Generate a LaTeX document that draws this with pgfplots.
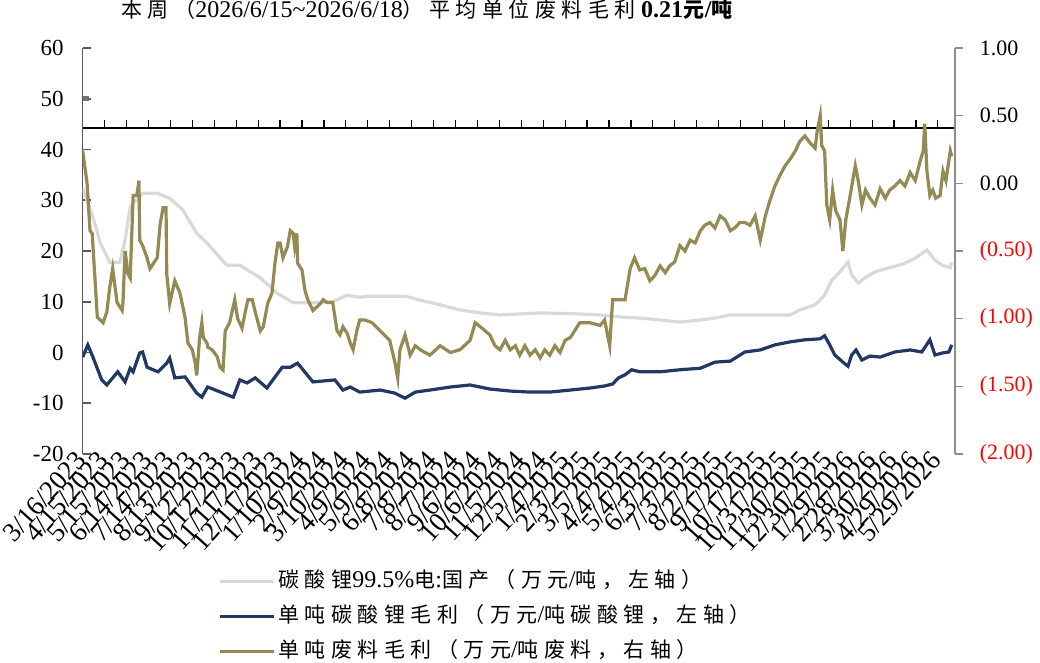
\documentclass[border=0pt]{standalone}
\usepackage{fontspec}
\setmainfont{Liberation Serif}
\newfontfamily\cjk[Scale=0.875,LetterSpace=26]{Noto Sans CJK SC}
\usepackage{pgfplots}
\pgfplotsset{compat=1.18}
\definecolor{lcgray}{RGB}{217,217,217}
\definecolor{navy}{RGB}{31,56,100}
\definecolor{olive}{RGB}{148,138,84}
\newcommand{\zh}[1]{{\cjk #1}}

\begin{document}
\begin{tikzpicture}
\useasboundingbox (-41.35pt,-104.5pt) rectangle (478.65pt,227pt);

% horizontal category line, crossing the plot area near the top
\begin{axis}[
    at={(0pt,163pt)}, anchor=south west,
    width=436pt, height=40pt, scale only axis,
    xmin=0, xmax=1193, ymin=0, ymax=1,
    axis x line*=bottom, hide y axis,
    xtick={0,30,...,1170}, xticklabels={},
    xmajorticks=true,
    tick align=inside, major tick length=4pt,
    x axis line style={black, line width=0.6pt},
    every tick/.style={black, line width=0.6pt},
]
\addplot[draw=none] coordinates {(0,0.5)};
\end{axis}

% left axis
\begin{axis}[
    width=436pt, height=203pt, scale only axis,
    xmin=0, xmax=1193, ymin=-20, ymax=60,
    axis y line*=left, axis x line*=bottom,
    x axis line style={draw=none},
    xtick={0,30,...,1170},
    xticklabels={3/16/2023,4/15/2023,5/15/2023,6/14/2023,7/14/2023,8/13/2023,9/12/2023,10/12/2023,11/11/2023,12/11/2023,
                 1/10/2024,2/9/2024,3/10/2024,4/9/2024,5/9/2024,6/8/2024,7/8/2024,8/7/2024,9/6/2024,10/6/2024,
                 11/5/2024,12/5/2024,1/4/2025,2/3/2025,3/5/2025,4/4/2025,5/4/2025,6/3/2025,7/3/2025,8/2/2025,
                 9/1/2025,10/1/2025,10/31/2025,11/30/2025,12/30/2025,1/29/2026,2/28/2026,3/30/2026,4/29/2026,5/29/2026},
    xticklabel style={rotate=48, anchor=east, font=\fontsize{13.5}{13.5}\selectfont, inner sep=1pt},
    ytick={-20,-10,...,60},
    yticklabels={-20,-10,0,10,20,30,40,50,60},
    yticklabel style={font=\fontsize{11.5}{12}\selectfont, xshift=-6pt},
    y axis line style={black!65, line width=0.8pt},
    every tick/.style={black!65, line width=0.8pt},
    major x tick style={draw=none, opacity=0},
    tick align=inside, major tick length=4pt,
    title={\zh{本周（}2026/6/15\textasciitilde2026/6/18\zh{）平均单位废料毛利}\textbf{0.21}{\cjk\bfseries\addfontfeatures{LetterSpace=4}元}\textbf{/}{\cjk\bfseries 吨}},
    title style={at={(0.395,1.066)}, anchor=center, font=\fontsize{12}{14}\selectfont, inner sep=0pt},
]
% small stub at 50
\addplot[black!55, line width=2.5pt] coordinates {(0,50) (9,50)};

% lithium carbonate price
\addplot[lcgray, line width=1.6pt] coordinates {
(0,32.4) (14,26.7) (24,21.6) (37,17.8) (51,17.8) (58,22.2) (65,28.7) (82,31.4) (102,31.4) (119,30.4)
(137,28.1) (156,23.5) (170,21.6) (197,17.2) (215,17.2) (243,14.7) (266,11.7) (288,9.8) (315,9.8) (342,10.0)
(362,11.3) (379,10.9) (393,11.1) (441,11.1) (462,10.3) (489,9.4) (516,8.4) (544,7.8) (571,7.4) (626,7.8)
(680,7.6) (708,7.4) (735,7.0) (762,6.8) (790,6.4) (817,6.0) (845,6.4) (865,6.8) (886,7.4) (927,7.4)
(968,7.4) (981,8.4) (1002,9.4) (1015,11.3) (1025,14.3) (1036,15.9) (1047,17.8) (1052,15.3) (1061,13.7) (1070,14.7)
(1084,15.9) (1104,16.7) (1125,17.6) (1139,18.6) (1155,20.2) (1166,18.2) (1176,17.2) (1187,16.7) (1189,17.8)
};

% gross margin per tonne of lithium carbonate
\addplot[navy, line width=1.6pt] coordinates {
(0,-0.9) (7,1.5) (14,-0.9) (26,-5.4) (33,-6.4) (48,-3.8) (58,-5.8) (65,-3.1) (69,-3.8) (78,-0.1)
(82,0.1) (88,-2.9) (103,-3.8) (115,-2.1) (119,-1.1) (126,-5.0) (140,-4.8) (156,-8.0) (163,-8.8) (171,-6.8)
(192,-8.0) (206,-8.8) (215,-5.4) (225,-6.0) (236,-5.0) (252,-7.0) (273,-2.9) (284,-2.9) (294,-2.1) (315,-5.8)
(345,-5.4) (356,-7.4) (366,-6.8) (379,-7.8) (407,-7.4) (427,-8.0) (441,-9.0) (455,-7.8) (475,-7.4) (503,-6.8)
(530,-6.4) (557,-7.2) (585,-7.6) (612,-7.8) (639,-7.8) (667,-7.4) (694,-7.0) (714,-6.6) (725,-6.2) (733,-5.0)
(742,-4.4) (751,-3.4) (762,-3.8) (790,-3.8) (817,-3.4) (845,-3.1) (865,-1.9) (886,-1.7) (906,0.1) (927,0.5)
(947,1.5) (968,2.1) (988,2.5) (1009,2.7) (1015,3.3) (1022,1.5) (1029,-0.5) (1040,-1.9) (1047,-2.7) (1052,-0.5)
(1058,0.5) (1066,-1.5) (1077,-0.7) (1091,-0.9) (1111,0.1) (1132,0.5) (1148,0.1) (1159,2.5) (1166,-0.5) (1176,-0.1)
(1185,0.1) (1189,1.5)
};
\end{axis}

% right axis
\begin{axis}[
    width=436pt, height=203pt, scale only axis,
    xmin=0, xmax=1193, ymin=-2, ymax=1,
    axis y line*=right, axis x line=none,
    ytick={-2,-1.5,...,1},
    yticklabels={\textcolor{red}{(2.00)},\textcolor{red}{(1.50)},\textcolor{red}{(1.00)},\textcolor{red}{(0.50)},0.00,0.50,1.00},
    yticklabel style={font=\fontsize{11}{12}\selectfont, xshift=5pt},
    y axis line style={black!45, line width=0.8pt},
    every tick/.style={black!45, line width=0.8pt},
    tick align=outside, major tick length=4pt,
    legend style={at={(0.155,-0.276)}, anchor=north west, draw=none, fill=none,
        font=\fontsize{12}{14}\selectfont, inner sep=0pt, row sep=2.5pt,
        nodes={text height=9pt, text depth=3pt, inner sep=1.5pt}},
    legend cell align=left,
    legend image code/.code={\draw[#1] (0pt,0pt) -- (27pt,0pt);},
]
\addlegendimage{lcgray, line width=1.6pt}
\addlegendentry{\zh{碳酸锂}99.5\%\zh{电}:\zh{国产（万元}/\zh{吨，左轴）}}
\addlegendimage{navy, line width=1.6pt}
\addlegendentry{\zh{单吨碳酸锂毛利（万元}/\zh{吨碳酸锂，左轴）}}

% gross margin per tonne of scrap
\addplot[olive, line width=1.6pt] coordinates {
(0,0.24) (6,0.00) (10,-0.35) (13,-0.37) (20,-0.99) (28,-1.03) (33,-0.95) (37,-0.77) (41,-0.63) (47,-0.88)
(54,-0.94) (55,-0.89) (58,-0.50) (62,-0.67) (65,-0.70) (69,-0.09) (74,-0.09) (77,0.02) (78,-0.42) (82,-0.46)
(88,-0.55) (92,-0.63) (102,-0.55) (106,-0.30) (110,-0.18) (114,-0.18) (115,-0.67) (119,-0.89) (126,-0.72) (133,-0.81)
(140,-0.99) (144,-1.18) (150,-1.23) (154,-1.33) (156,-1.42) (160,-1.14) (163,-1.03) (165,-1.14) (170,-1.18) (171,-1.21)
(177,-1.23) (184,-1.28) (188,-1.36) (192,-1.38) (195,-1.09) (201,-1.03) (208,-0.86) (212,-1.00) (218,-1.07) (222,-0.96)
(226,-0.86) (232,-0.86) (236,-0.95) (243,-1.09) (247,-1.06) (253,-0.89) (259,-0.81) (263,-0.59) (267,-0.44) (270,-0.44)
(274,-0.55) (280,-0.47) (284,-0.35) (288,-0.37) (290,-0.47) (293,-0.37) (294,-0.59) (300,-0.64) (304,-0.79) (308,-0.86)
(315,-0.94) (325,-0.89) (329,-0.86) (334,-0.88) (342,-0.88) (348,-1.09) (352,-1.12) (356,-1.06) (362,-1.11) (366,-1.18)
(370,-1.23) (375,-1.09) (379,-1.01) (386,-1.01) (396,-1.03) (407,-1.09) (420,-1.16) (427,-1.32) (431,-1.44) (434,-1.23)
(441,-1.12) (448,-1.27) (455,-1.20) (462,-1.23) (475,-1.27) (489,-1.20) (503,-1.25) (516,-1.23) (530,-1.16) (537,-1.03)
(544,-1.06) (557,-1.12) (564,-1.20) (571,-1.23) (578,-1.16) (585,-1.23) (592,-1.20) (598,-1.27) (605,-1.20) (612,-1.27)
(619,-1.23) (626,-1.29) (632,-1.23) (639,-1.27) (646,-1.20) (653,-1.25) (660,-1.16) (667,-1.14) (673,-1.09) (680,-1.03)
(694,-1.03) (708,-1.05) (714,-1.01) (721,-1.20) (725,-0.86) (735,-0.86) (742,-0.86) (749,-0.63) (755,-0.55) (762,-0.64)
(769,-0.63) (776,-0.72) (783,-0.68) (790,-0.61) (797,-0.66) (803,-0.61) (810,-0.58) (817,-0.46) (824,-0.50) (831,-0.42)
(838,-0.44) (845,-0.35) (851,-0.31) (858,-0.29) (865,-0.33) (872,-0.24) (879,-0.27) (886,-0.35) (892,-0.33) (899,-0.29)
(906,-0.29) (913,-0.31) (920,-0.24) (927,-0.42) (934,-0.24) (940,-0.13) (947,-0.02) (954,0.06) (961,0.13) (968,0.18)
(975,0.24) (981,0.31) (988,0.35) (995,0.30) (1002,0.26) (1005,0.39) (1009,0.50) (1011,0.28) (1015,0.24) (1018,-0.16)
(1022,-0.27) (1026,-0.05) (1030,-0.20) (1036,-0.27) (1040,-0.50) (1044,-0.27) (1050,-0.09) (1057,0.13) (1061,0.02) (1066,-0.16)
(1071,-0.05) (1077,-0.11) (1084,-0.16) (1091,-0.04) (1098,-0.11) (1104,-0.05) (1111,-0.02) (1118,0.02) (1125,-0.02) (1132,0.08)
(1139,0.02) (1146,0.17) (1150,0.24) (1152,0.44) (1155,0.09) (1159,-0.09) (1163,-0.05) (1167,-0.11) (1173,-0.09) (1177,0.09)
(1181,0.02) (1187,0.24) (1189,0.20)
};
\addlegendentry{\zh{单吨废料毛利（万元}/\zh{吨废料，右轴）}}
\end{axis}
\end{tikzpicture}
\end{document}
